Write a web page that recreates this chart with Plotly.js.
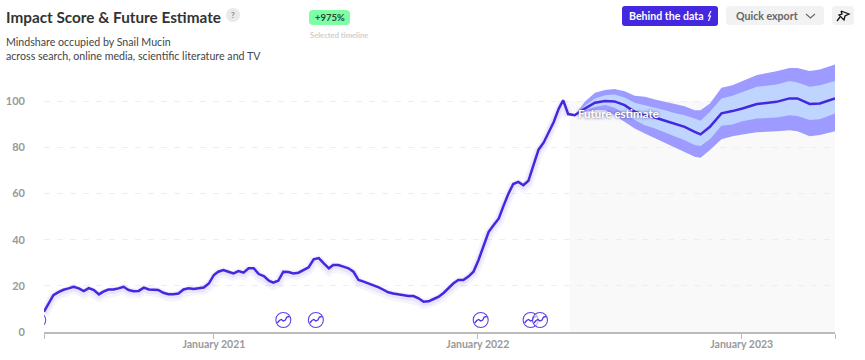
<!DOCTYPE html>
<html><head><meta charset="utf-8">
<script src="https://cdn.plot.ly/plotly-3.0.1.min.js"></script>
<style>html,body{margin:0;padding:0;background:#fff}#c{width:865px;height:360px}</style>
</head><body><div id="c"></div>
<script>
var historyStart = '2020-05-11';
var historyStepDays = 6.913;
var historyValues = [8.8,12.4,16,17.3,18.3,18.9,19.6,18.9,17.7,19,18.2,16.3,17.5,18.4,18.4,18.9,19.6,18.2,17.7,17.8,19.2,18.4,18.4,18.2,17,16.4,16.4,16.7,18.4,18.9,18.6,18.9,19.3,21,24.7,26.1,26.8,26.1,25.4,26.4,25.7,27.6,27.6,25.1,24.2,22.2,21.4,22.2,26.1,26,25.4,25.7,26.8,28,31.5,32,29.7,27.6,29,29,28.3,27.6,26.1,22.5,21.8,21,19.9,19.3,18.2,17.2,16.7,16.3,16,15.6,15.6,14.6,13.1,13.3,14.3,15.3,17,18.9,21,22.5,22.5,24,26.1,31.2,37.7,43.4,46.3,49.2,54.2,59.7,64.1,65,63.6,65.5,72.3,79,82,86.8,91,96.8,100.4,94.4];
var forecastDates = ['2022-05-15','2022-05-29','2022-06-12','2022-06-26','2022-07-09','2022-07-23','2022-08-06','2022-08-20','2022-09-03','2022-09-17','2022-09-30','2022-10-14','2022-10-28','2022-11-05','2022-11-18','2022-12-04','2022-12-19','2023-01-02','2023-01-22','2023-02-18','2023-03-08','2023-03-19','2023-04-05','2023-04-19','2023-05-10'];
var forecastMid = [93.9,96.8,99.3,100.1,99.9,98.3,95.4,93.9,92.9,91.5,90.3,88.9,86.7,85.6,88.9,94.7,95.7,96.8,98.8,99.7,101.2,101.2,98.8,99,101.2];
var innerUpper = [93.9,98,101.2,102.6,102.9,101.6,99.3,98.3,97.1,96.1,94.9,93.9,92.5,91.5,95.4,101.2,102.3,104,106.2,107.2,108.7,108.1,106.2,106.9,108.7];
var innerLower = [93.9,96.1,97.5,98.3,97.1,94.7,91.8,89.6,88.2,86.3,84.8,83.1,81,80.6,83.5,89.3,89.9,91.3,92.5,92.9,93.9,93.6,91.8,92.2,94.7];
var outerUpper = [93.9,99.7,103.6,104.8,105.3,104.3,102.3,101.9,100.7,99.7,99,97.8,96.1,96.1,99,105.8,106.9,108.7,111.3,113,114.4,114.4,113.1,113.7,115.9];
var outerLower = [93.9,95.4,96.1,96.1,93.9,91,88.2,86,83.9,81.9,80,78,75.9,75.5,78.8,83.5,84.8,85.6,86.5,87,87.4,87,84.8,85.3,87];
var eventDates = ['2020-05-03','2021-04-07','2021-05-22','2022-01-05','2022-03-15','2022-03-28'];
var eventLevel = 5.2;
var yTicks = [0,20,40,60,80,100];
var xTickDates = ['2020-05-11','2021-01-01','2022-01-01','2023-01-01','2023-05-10'];
var xTickLabels = ['','January 2021','January 2022','January 2023',''];
var xRange = ['2020-05-11','2023-05-10'];
var forecastFrom = '2022-05-08';

var INK='#4328e0', FONT='Lato, "Noto Sans", sans-serif';
var historyDates = historyValues.map(function(_,i){
  return new Date(Date.parse(historyStart)+i*historyStepDays*864e5).toISOString().slice(0,10);
});
var M={l:44,r:30,t:55,b:28}, PW=865-M.l-M.r, PH=360-M.t-M.b;
function px(x){return (x-M.l)/PW} function py(y){return (360-M.b-y)/PH}
function rr(x0,y0,x1,y1,r){
  function p(x,y){return px(x).toFixed(5)+','+py(y).toFixed(5)}
  return 'M'+p(x0+r,y0)+'L'+p(x1-r,y0)+'Q'+p(x1,y0)+' '+p(x1,y0+r)+'L'+p(x1,y1-r)+'Q'+p(x1,y1)+' '+p(x1-r,y1)+'L'+p(x0+r,y1)+'Q'+p(x0,y1)+' '+p(x0,y1-r)+'L'+p(x0,y0+r)+'Q'+p(x0,y0)+' '+p(x0+r,y0)+'Z';
}
function box(x0,y0,x1,y1,r,c){return {type:'path',xref:'paper',yref:'paper',path:rr(x0,y0,x1,y1,r),fillcolor:c,line:{width:0},layer:'above'}}
function stroke(points,c,w){
  var d=points.map(function(q,i){return (i?'L':'M')+px(q[0]).toFixed(5)+','+py(q[1]).toFixed(5)}).join('');
  return {type:'path',xref:'paper',yref:'paper',path:d,line:{color:c,width:w},layer:'above'};
}
function note(x,y,text,size,color,opts){
  var o={xref:'paper',yref:'paper',x:px(x),y:py(y),text:text,showarrow:false,xanchor:'left',yanchor:'middle',
    font:{family:FONT,size:size,color:color},borderpad:0,align:'left'};
  for(var k in opts||{}){ if(k==='weight'){o.font.weight=opts[k]} else if(k==='shadow'){o.font.shadow=opts[k]} else o[k]=opts[k]; }
  return o;
}
function band(u,l,c){return [
  {x:forecastDates,y:l,mode:'lines',line:{width:0,color:c},hoverinfo:'skip',showlegend:false},
  {x:forecastDates,y:u,mode:'lines',line:{width:0,color:c},fill:'tonexty',fillcolor:c,hoverinfo:'skip',showlegend:false}
];}
var traces=[].concat(
  band(outerUpper,outerLower,'#9d9bff'),
  band(innerUpper,innerLower,'#bfd4ff'),
  [
   {x:historyDates,y:historyValues.map(function(v){return v-1}),mode:'lines',line:{color:'rgba(67,40,224,0.05)',width:10},hoverinfo:'skip',showlegend:false},
   {x:historyDates,y:historyValues.map(function(v){return v-0.6}),mode:'lines',line:{color:'rgba(67,40,224,0.07)',width:6},hoverinfo:'skip',showlegend:false},
   {x:historyDates.concat(forecastDates),y:historyValues.concat(forecastMid),mode:'lines',line:{color:INK,width:2.5},hoverinfo:'skip',showlegend:false}
  ]);

var shapes=[{type:'rect',xref:'x',yref:'y',x0:forecastFrom,x1:xRange[1],y0:0,y1:100,fillcolor:'#f9f9f9',line:{width:0},layer:'below'}];
eventDates.forEach(function(d){
  var base={xref:'x',yref:'y',xsizemode:'pixel',ysizemode:'pixel',xanchor:d,yanchor:eventLevel,layer:'above'};
  shapes.push(Object.assign({type:'circle',x0:-7.5,x1:7.5,y0:-7.5,y1:7.5,fillcolor:'rgba(255,255,255,0.55)',line:{color:'#5a44e8',width:1.1}},base));
  shapes.push(Object.assign({type:'path',path:'M-6,-3 L-4,-0.5 L-2,0.5 L0,-1 L2,0 L3.5,3 L6,3.5',line:{color:'#4a33e2',width:1.3}},base));
});
shapes.push({type:'circle',xref:'paper',yref:'paper',x0:px(226),x1:px(240),y0:py(22),y1:py(8),fillcolor:'#e9e9e9',line:{width:0},layer:'above'});
shapes.push(box(309,10,350,25,4,'#7dffa6'));
shapes.push(box(622,6,718,26,3,INK));
shapes.push(box(726,6,824,25,4,'#f2f2f2'));
shapes.push(box(832,6,854,25,4,'#f2f2f2'));
shapes.push(stroke([[806,14],[810.5,18],[815,14]],'#666',1.1));
shapes.push(stroke([[841,11],[849,14],[845,16],[844,20],[839,15],[842,14],[841,11]],'#111',1.3));
shapes.push(stroke([[840,17],[837,21]],'#111',1.3));
shapes.push(stroke([[711,11],[708.5,16],[710.5,16],[708.5,21]],'#fff',1.1));
var annotations=[
  note(5,17,'Impact Score &amp; Future Estimate',15.3,'#333',{weight:700}),
  note(233,15.5,'?',8,'#888',{xanchor:'center',weight:700}),
  note(329.5,17.5,'+975%',9.5,'#2b4a36',{xanchor:'center',weight:700}),
  note(309,34.5,'Selected timeline',7.6,'#cfcfcf',{weight:700}),
  note(5,41.5,'Mindshare occupied by Snail Mucin',10.65,'#444'),
  note(5,55.5,'across search, online media, scientific literature and TV',10.65,'#444'),
  note(628,16,'Behind the data',10.6,'#fff',{weight:700}),
  note(735,16,'Quick export',10.6,'#666',{weight:700}),
  note(577,113,'Future estimate',11.5,'#fff',{weight:700,shadow:'0 0 3px rgba(60,50,120,0.9)'})
];
var layout={
  width:865,height:360,margin:M,paper_bgcolor:'#fff',plot_bgcolor:'#fff',showlegend:false,
  font:{family:FONT},
  xaxis:{type:'date',range:xRange,tickmode:'array',tickvals:xTickDates,ticktext:xTickLabels,ticks:'outside',ticklen:5,tickwidth:1,tickcolor:'#bbb',ticklabelstandoff:-3,
    showgrid:false,zeroline:false,showline:true,linecolor:'#bbb',linewidth:1.5,tickfont:{family:FONT,size:10.5,color:'#999',weight:700}},
  yaxis:{range:[0,120],tickmode:'array',tickvals:yTicks,showgrid:true,gridcolor:'#eeeeee',griddash:'6px,7px',gridwidth:1,zeroline:false,showline:false,ticks:'',
    ticklabelstandoff:18,tickfont:{family:FONT,size:11,color:'#999',weight:700}},
  shapes:shapes,annotations:annotations
};
Plotly.newPlot('c',traces,layout,{displayModeBar:false,staticPlot:true});
</script></body></html>
